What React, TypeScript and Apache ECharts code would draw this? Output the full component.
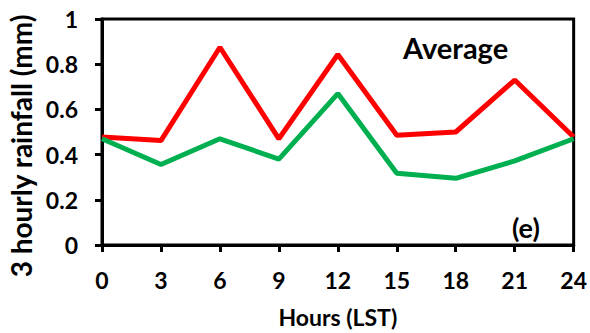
import React, { useEffect, useRef } from "react";
import * as echarts from "echarts";

const hours = [0, 3, 6, 9, 12, 15, 18, 21, 24];
const redValues = [0.478, 0.462, 0.875, 0.47, 0.843, 0.486, 0.5, 0.73, 0.478];
const greenValues = [0.47, 0.356, 0.47, 0.38, 0.67, 0.317, 0.295, 0.372, 0.47];
const xTicks = [0, 3, 6, 9, 12, 15, 18, 21, 24];
const yTicks = [0, 0.2, 0.4, 0.6, 0.8, 1];
const yTitle = "3 hourly rainfall (mm)";
const xTitle = "Hours (LST)";

const FONT = "Lato, 'Open Sans', 'DejaVu Sans', sans-serif";

export default function App() {
  const ref = useRef<HTMLDivElement>(null);
  useEffect(() => {
    if (!ref.current) return;
    const chart = echarts.init(ref.current, undefined, { renderer: "svg" });
    chart.setOption({
      animation: false,
      backgroundColor: "#fff",
      grid: {
        left: 102,
        top: 19,
        right: 13,
        bottom: 86,
        show: true,
        borderColor: "#000",
        borderWidth: 3,
      },
      xAxis: {
        type: "value",
        min: xTicks[0],
        max: xTicks[xTicks.length - 1],
        interval: 3,
        name: xTitle,
        nameLocation: "middle",
        nameGap: 60,
        nameTextStyle: { fontFamily: FONT, fontWeight: "bold", fontSize: 23, color: "#000" },
        axisLine: { lineStyle: { color: "#000", width: 3 } },
        axisTick: { show: true, inside: false, length: 7, lineStyle: { color: "#000", width: 3 } },
        axisLabel: { fontFamily: FONT, fontWeight: "bold", fontSize: 23, color: "#000", margin: 23 },
        splitLine: { show: false },
      },
      yAxis: {
        type: "value",
        min: yTicks[0],
        max: yTicks[yTicks.length - 1],
        interval: 0.2,
        axisLine: { show: true, lineStyle: { color: "#000", width: 3 } },
        axisTick: { show: true, inside: false, length: 7, lineStyle: { color: "#000", width: 3 } },
        axisLabel: {
          fontFamily: FONT,
          fontWeight: "bold",
          fontSize: 23,
          color: "#000",
          margin: 24,
          formatter: (v: number) => String(Math.round(v * 10) / 10),
        },
        splitLine: { show: false },
      },
      graphic: [
        {
          type: "text",
          x: 21,
          y: 146,
          rotation: Math.PI / 2,
          style: {
            text: yTitle,
            font: `bold 28px ${FONT}`,
            fill: "#000",
            textAlign: "center",
            textVerticalAlign: "middle",
          },
        },
        {
          type: "text",
          x: 403,
          y: 47.5,
          style: {
            text: "Average",
            font: `bold 29px ${FONT}`,
            fill: "#000",
            textAlign: "left",
            textVerticalAlign: "middle",
          },
        },
        {
          type: "text",
          x: 512,
          y: 227,
          style: {
            text: "(e)",
            font: `bold 27px ${FONT}`,
            fill: "#000",
            textAlign: "left",
            textVerticalAlign: "middle",
          },
        },
      ],
      series: [
        {
          type: "line",
          data: hours.map((h, i) => [h, redValues[i]]),
          showSymbol: false,
          lineStyle: { color: "#FF0000", width: 5 },
          itemStyle: { color: "#FF0000" },
        },
        {
          type: "line",
          data: hours.map((h, i) => [h, greenValues[i]]),
          showSymbol: false,
          lineStyle: { color: "#00B050", width: 5 },
          itemStyle: { color: "#00B050" },
        },
      ],
    });
    return () => chart.dispose();
  }, []);
  return <div ref={ref} style={{ width: 590, height: 333, position: "absolute", left: 0, top: 0 }} />;
}
